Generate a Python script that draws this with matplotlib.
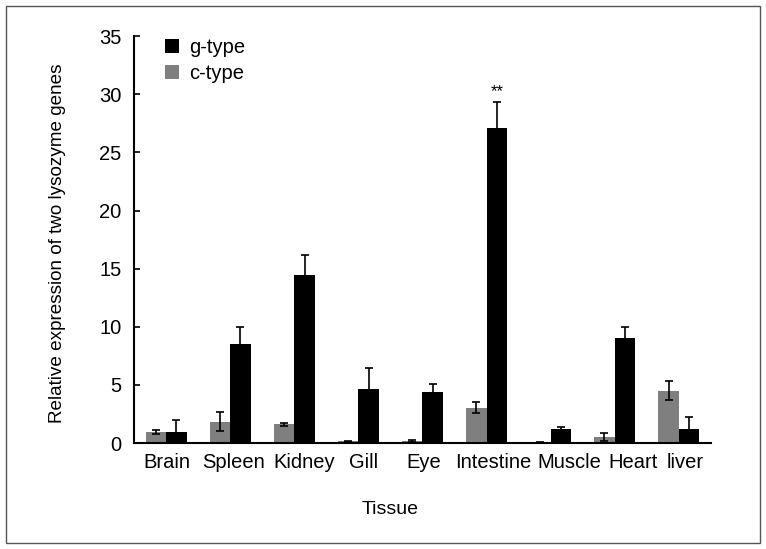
import numpy as np
import matplotlib.pyplot as plt
from matplotlib.patches import Rectangle
from matplotlib.transforms import ScaledTranslation

plt.rcParams['font.family'] = ['Liberation Sans', 'DejaVu Sans']

tissues = ['Brain', 'Spleen', 'Kidney', 'Gill', 'Eye', 'Intestine', 'Muscle', 'Heart', 'liver']
c_type = [0.95, 1.85, 1.6, 0.15, 0.15, 3.05, 0.05, 0.55, 4.5]
c_err = [0.15, 0.85, 0.1, 0.05, 0.1, 0.45, 0.03, 0.35, 0.83]
g_type = [0.95, 8.5, 14.5, 4.65, 4.35, 27.1, 1.25, 9.0, 1.25]
g_err = [1.0, 1.5, 1.7, 1.8, 0.75, 2.2, 0.1, 1.0, 1.0]

fig = plt.figure(figsize=(7.66, 5.49), dpi=100)
ax = fig.add_axes([0.175, 0.193, 0.753, 0.741])

x = np.arange(len(tissues))
w = 0.32
ekw = dict(ecolor='black', capsize=3, elinewidth=1.2, capthick=1.2)
ax.bar(x - w / 2, c_type, w, yerr=c_err, color='#7f7f7f', label='c-type', error_kw=ekw)
ax.bar(x + w / 2, g_type, w, yerr=g_err, color='black', label='g-type', error_kw=ekw)

# significance marker over intestine g-type
i = tissues.index('Intestine')
ax.text(x[i] + w / 2, g_type[i] + g_err[i] + 0.3, '**', ha='center', va='bottom', fontsize=12)

ax.set_xlim(-0.5, len(tissues) - 0.5)
ax.set_ylim(0, 35)
ax.set_yticks(range(0, 36, 5))
ax.set_xticks(x)
ax.set_xticklabels(tissues)
ax.tick_params(axis='x', length=0, labelsize=14.5, pad=7)
ax.tick_params(axis='y', direction='in', length=4, labelsize=14.5, width=1.2, pad=9)

# the original labels sit a bit right of the group centres (hand spaced)
shift_px = [1, 3, 10, 5, 1, 7, 19, 18, 6]
for lab, dx in zip(ax.get_xticklabels(), shift_px):
    lab.set_transform(lab.get_transform() + ScaledTranslation(dx / 100, 0, fig.dpi_scale_trans))

for s in ['top', 'right']:
    ax.spines[s].set_visible(False)
for s in ['left', 'bottom']:
    ax.spines[s].set_linewidth(1.5)

ax.set_ylabel('Relative expression of two lysozyme genes', fontsize=13.6, labelpad=24)
ax.yaxis.label.set_y(0.49)
ax.set_xlabel('Tissue', fontsize=14, labelpad=21)
ax.xaxis.label.set_x(0.444)

h, l = ax.get_legend_handles_labels()
ax.legend(h[::-1], l[::-1], loc='upper left', bbox_to_anchor=(0.023, 1.04), frameon=False,
          fontsize=14.5, handlelength=0.65, handleheight=0.65, handletextpad=0.55, labelspacing=0.35)

fig.patches.append(Rectangle((0.008, 0.011), 0.984, 0.978, transform=fig.transFigure,
                             fill=False, edgecolor='#555555', linewidth=1))

fig.savefig('out.png', dpi=100)
